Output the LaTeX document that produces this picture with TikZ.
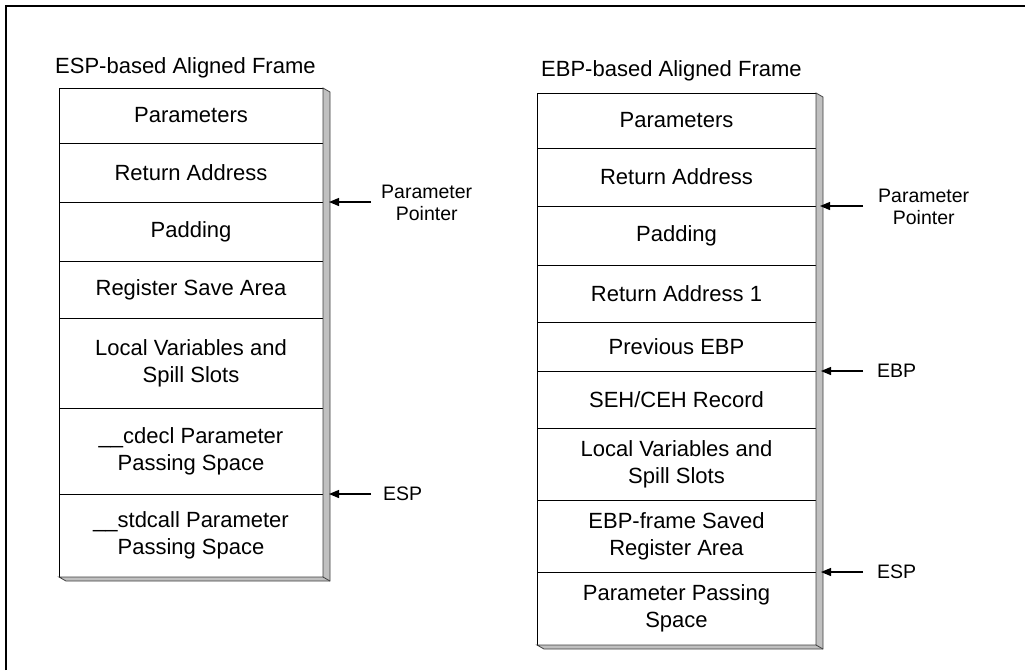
\documentclass[tikz,border=0pt]{standalone}
\usepackage{fontspec}
\setmainfont{Liberation Sans}
\usepackage{tikz}
\usetikzlibrary{positioning,arrows.meta,calc}
\definecolor{shadegray}{HTML}{C0C0C0}
\newcommand{\cellfont}{\fontsize{22}{27}\selectfont}
\newcommand{\ptrfont}{\fontsize{19.5}{22}\selectfont}
\tikzset{
  cell/.style   = {draw=black, line width=1pt, align=center, font=\cellfont,
                   inner sep=0pt, outer sep=0pt},
  esprow/.style = {cell, minimum width=264pt, minimum height=#1},
  ebprow/.style = {cell, minimum width=279pt, minimum height=#1},
  ttl/.style    = {font=\cellfont, anchor=base west, inner sep=0pt},
  ptrlbl/.style = {font=\ptrfont, align=center, inner sep=0pt},
  ptr/.style    = {-{Triangle[length=10pt,width=8pt]}, line width=1.2pt},
  shade/.style  = {fill=shadegray, draw=black!75, line width=0.8pt},
}

\begin{document}
\begin{tikzpicture}[x=1pt, y=1pt]
    \useasboundingbox (0,0) rectangle (1025,-670);
    % outer frame, cut off at right and bottom
    \draw[line width=2pt] (6,-670) -- (6,-6) -- (1025,-6);

    % ESP-based frame
    \node[ttl] (esptitle) at (55,-73) {ESP-based Aligned Frame};
    \node[esprow=55pt, anchor=north west] (e1) at (59,-88) {Parameters};
    \node[esprow=59pt, below=0pt of e1] (e2) {Return Address};
    \node[esprow=59pt, below=0pt of e2] (e3) {Padding};
    \node[esprow=57pt, below=0pt of e3] (e4) {Register Save Area};
    \node[esprow=90pt, below=0pt of e4] (e5) {Local Variables and\\Spill Slots};
    \node[esprow=86pt, below=0pt of e5] (e6) {\_\_cdecl Parameter\\Passing Space};
    \node[esprow=83pt, below=0pt of e6] (e7) {\_\_stdcall Parameter\\Passing Space};
    \draw[shade] (e1.north east) -- ++(7,-4) -- ($(e7.south east)+(7,-4)$)
        -- ($(e7.south west)+(7,-4)$) -- (e7.south west) -- (e7.south east) -- cycle;
    \draw[black!75, line width=0.8pt] (e7.south east) -- ++(7,-4);

    % EBP-based frame
    \node[ttl] (ebptitle) at (541,-76) {EBP-based Aligned Frame};
    \node[ebprow=55pt, anchor=north west] (b1) at (537,-93) {Parameters};
    \node[ebprow=58pt, below=0pt of b1] (b2) {Return Address};
    \node[ebprow=59pt, below=0pt of b2] (b3) {Padding};
    \node[ebprow=57pt, below=0pt of b3] (b4) {Return Address 1};
    \node[ebprow=49pt, below=0pt of b4] (b5) {Previous EBP};
    \node[ebprow=57pt, below=0pt of b5] (b6) {SEH/CEH Record};
    \node[ebprow=72pt, below=0pt of b6] (b7) {Local Variables and\\Spill Slots};
    \node[ebprow=72pt, below=0pt of b7] (b8) {EBP-frame Saved\\Register Area};
    \node[ebprow=73pt, below=0pt of b8] (b9) {Parameter Passing\\Space};
    \draw[shade] (b1.north east) -- ++(7,-4) -- ($(b9.south east)+(7,-4)$)
        -- ($(b9.south west)+(7,-4)$) -- (b9.south west) -- (b9.south east) -- cycle;
    \draw[black!75, line width=0.8pt] (b9.south east) -- ++(7,-4);

    % pointers
    \coordinate (espparam) at ($(e2.south east)+(6,0)$);
    \coordinate (espesp)   at ($(e6.south east)+(6,0)$);
    \coordinate (ebpparam) at ($(b2.south east)+(4,0)$);
    \coordinate (ebpebp)   at ($(b5.south east)+(5,0)$);
    \coordinate (ebpesp)   at ($(b8.south east)+(5,0)$);
    \node[ptrlbl, right=52pt of espparam, yshift=-1pt] (espparamlbl) {Parameter\\Pointer};
    \node[ptrlbl, right=54pt of espesp] (espesplbl) {ESP};
    \node[ptrlbl, right=58pt of ebpparam, yshift=-1pt] (ebpparamlbl) {Parameter\\Pointer};
    \node[ptrlbl, right=56pt of ebpebp] (ebpebplbl) {EBP};
    \node[ptrlbl, right=56pt of ebpesp] (ebpesplbl) {ESP};
    \draw[ptr] (espparamlbl.west) ++(-10,1) -- (espparam);
    \draw[ptr] (espesplbl.west) ++(-12,0) -- (espesp);
    \draw[ptr] (ebpparamlbl.west) ++(-15,1) -- (ebpparam);
    \draw[ptr] (ebpebplbl.west) ++(-14,0) -- (ebpebp);
    \draw[ptr] (ebpesplbl.west) ++(-14,0) -- (ebpesp);
\end{tikzpicture}
\end{document}
